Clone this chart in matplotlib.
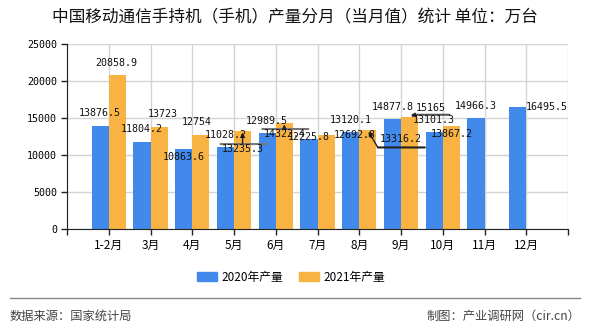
import numpy as np
import matplotlib
matplotlib.use('Agg')
import matplotlib.pyplot as plt
from matplotlib.patches import Patch
from matplotlib.lines import Line2D
from matplotlib.transforms import offset_copy

plt.rcParams['font.family'] = ['Noto Sans CJK SC', 'DejaVu Sans']

months = ['1-2月', '3月', '4月', '5月', '6月', '7月', '8月', '9月', '10月', '11月', '12月']
output_2020 = [13876.5, 11804.2, 10863.6, 11028.2, 12989.5, 12225.8, 13120.1, 14877.8, 13101.3, 14966.3, 16495.5]
output_2021 = [20858.9, 13723, 12754, 13235.3, 14322.4, 12692.8, 13316.2, 15165, 13867.2]
series_names = ['2020年产量', '2021年产量']

c_blue = '#4189ea'
c_orange = '#f9b343'
mono = 'DejaVu Sans Mono'

# label offsets (pixels, from bar top) - the original chart shuffles some labels around
off_2020 = [(0, 13), (0, 13), (0, -8), (0, 12), (0, 12), (0, 2), (0, 12), (0, 12), (0, 12), (0, 12), (29, 0)]
off_2021 = [(-1, 12), (4, 13), (-4, 13), (0, -18), (0, -11), (29, 0), (33, -9), (21, 9), (0, -8)]

# leader lines for displaced 2021 labels: (line start, line end, arrow start, colour)
leaders = {
    3: ((-22, -13), (24, -13), (0, -13), '#777777'),
    4: ((-22, -6), (24, -6), (0, -6), '#777777'),
    6: ((10, -17), (57, -17), (10, -17), '#222222'),
    7: ((3, 2), (40, 2), (6, 2), '#555555'),
}

fig = plt.figure(figsize=(5.9, 3.3), dpi=100)
ax = fig.add_axes([67 / 590, 1 - 229 / 330, (568 - 67) / 590, (229 - 44) / 330])

x = np.arange(len(months))
w = 0.41
ax.bar(x - w / 2, output_2020, width=w, color=c_blue, zorder=3)
x21 = x[:len(output_2021)]
ax.bar(x21 + w / 2, output_2021, width=w, color=c_orange, zorder=3)

for i, v in enumerate(output_2020):
    ax.annotate(f'{v:g}', xy=(x[i] - w / 2, v), xytext=off_2020[i], textcoords='offset pixels',
                ha='center', va='center', fontsize=7.2, family=mono, color='#111', zorder=5)

for i, v in enumerate(output_2021):
    ax.annotate(f'{v:g}', xy=(x21[i] + w / 2, v), xytext=off_2021[i], textcoords='offset pixels',
                ha='center', va='center', fontsize=7.2, family=mono, color='#111', zorder=5)
    if i in leaders:
        p0, p1, a0, col = leaders[i]
        tr = offset_copy(ax.transData, fig=fig, x=p0[0], y=p0[1], units='dots')
        ax.annotate('', xy=(x21[i] + w / 2, v), xycoords=tr,
                    xytext=(p1[0] - p0[0], p1[1] - p0[1]), textcoords='offset pixels',
                    arrowprops=dict(arrowstyle='-', color=col, lw=1.5, shrinkA=0, shrinkB=0), zorder=4)
        ax.annotate('', xy=(x21[i] + w / 2, v), xytext=a0, textcoords='offset pixels',
                    arrowprops=dict(arrowstyle='-|>', color='#222', lw=1, shrinkA=0, shrinkB=1,
                                    mutation_scale=6), zorder=4)

ax.set_xlim(-1, 11)
ax.set_ylim(0, 25000)
ax.set_xticks(np.arange(-1, 12))
ax.set_xticklabels([''] + months + [''], fontsize=8.5)
ax.set_yticks(np.arange(0, 25001, 5000))
ax.set_yticklabels([str(t) for t in range(0, 25001, 5000)], fontsize=7.2, family=mono)
ax.grid(True, color='#d4d4d4', lw=1, zorder=0)
ax.tick_params(axis='both', direction='out', length=4, width=1, color='#222', pad=3)
for s in ['top', 'right']:
    ax.spines[s].set_visible(False)
for s in ['left', 'bottom']:
    ax.spines[s].set_color('#222')
    ax.spines[s].set_zorder(4)

fig.text(0.5, 1 - 18 / 330, '中国移动通信手持机（手机）产量分月（当月值）统计 单位：万台',
         ha='center', va='center', fontsize=12, color='#111')

handles = [Patch(color=c_blue), Patch(color=c_orange)]
fig.legend(handles, series_names, loc='center', bbox_to_anchor=(291 / 590, 1 - 277 / 330), ncol=2,
           frameon=False, fontsize=8.5, handlelength=1.7, handleheight=0.7, columnspacing=1.3,
           handletextpad=0.4)

fig.add_artist(Line2D([10 / 590, 580 / 590], [1 - 298 / 330] * 2, color='#888', lw=1))
fig.text(10 / 590, 1 - 316 / 330, '数据来源：国家统计局', ha='left', va='center', fontsize=8.8, color='#444')
fig.text(580 / 590, 1 - 316 / 330, '制图：产业调研网（cir.cn）', ha='right', va='center', fontsize=8.8, color='#444')

fig.savefig('out.png', dpi=100)
